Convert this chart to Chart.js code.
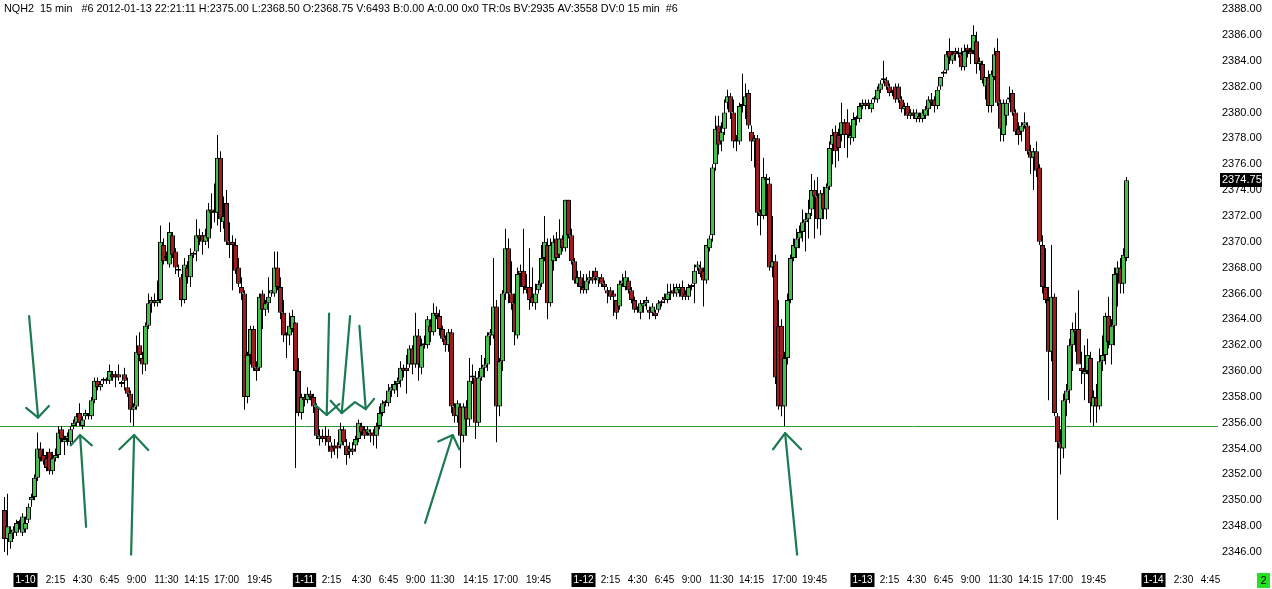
<!DOCTYPE html>
<html>
<head>
<meta charset="utf-8">
<title>NQH2 15 min</title>
<script src="https://cdn.jsdelivr.net/npm/chart.js@4/dist/chart.umd.min.js"></script>
<style>
  html, body { margin: 0; padding: 0; background: #fff; overflow: hidden; }
</style>
</head>
<body>
<canvas id="chart" width="1272" height="589"></canvas>
<script>
// NQH2 15 min bars, 2012-01-10 .. 2012-01-13
const headerText = 'NQH2  15 min   #6 2012-01-13 22:21:11 H:2375.00 L:2368.50 O:2368.75 V:6493 B:0.00 A:0.00 0x0 TR:0s BV:2935 AV:3558 DV:0 15 min  #6';

const opens = [
  2349.25,2347,2346.75,2347.5,2347.5,2348.25,2347.5,2347.75,2348.5,2350,
  2350.25,2351.75,2354,2353.5,2353.25,2353.75,2352.25,2353.25,2353.5,2355.5,
  2354.5,2354.75,2354.5,2355.75,2356,2356.75,2355.75,2356.5,2356.5,2356.5,
  2357.75,2359.25,2358.75,2359.25,2359.25,2359.25,2359.75,2359.75,2359.75,2359,
  2359.75,2358.75,2358.25,2357,2357.25,2362,2361,2360.5,2363.5,2365.25,
  2365.5,2365.25,2365.5,2369.75,2368.75,2368.25,2370.5,2369.25,2367.75,2367.25,
  2365.5,2368,2367.25,2369,2369.25,2370.5,2370.5,2370,2370.25,2372.5,
  2372.25,2372.25,2376.5,2371.5,2373,2370,2370,2369.75,2368,2366.5,
  2366,2358,2361.25,2363.25,2360.25,2360.25,2366,2364.75,2365.25,2366,
  2366,2368,2366.5,2364.5,2362.75,2362.75,2363.25,2363.75,2360,2356.75,
  2358,2357.75,2358.25,2358,2357.25,2354.75,2355,2355,2355,2354.25,
  2354.25,2354.25,2354.25,2355.5,2354.25,2353.75,2354,2354.25,2354.75,2355.75,
  2355.5,2355.25,2355.25,2355.25,2355,2355.75,2356.75,2357.5,2357.5,2358.5,
  2358.5,2359,2359.25,2360.25,2360.25,2360.5,2361.75,2360.5,2362.75,2360.25,
  2362,2362,2363.5,2363,2364.5,2364.25,2363.25,2362.5,2362,2363,
  2357.25,2356.5,2357.25,2355,2357.25,2356.25,2359.5,2359.5,2356,2359.5,
  2360.25,2360.5,2362.75,2362.75,2365,2357.25,2360.75,2366,2369.5,2366,
  2365.25,2362.75,2367.5,2367.75,2366.5,2366.5,2365.75,2365.25,2366.25,2366.75,
  2368.75,2369.75,2365.25,2368.5,2370.25,2369,2370.25,2369.5,2373.25,2370.5,
  2368.5,2366.75,2367.25,2366.5,2366.25,2367,2367.25,2367.75,2367,2367.25,
  2366.75,2366.25,2366.25,2366,2365.5,2365,2366.75,2366.5,2367,2366.25,
  2365.5,2364.75,2364.5,2365,2365.25,2364.75,2364.5,2364.5,2364.75,2365.25,
  2365.75,2365.5,2366,2366.25,2366,2366.25,2366.5,2366,2365.75,2366.5,
  2366.75,2368,2368,2367.75,2367,2369.5,2370.5,2376,2379,2377.75,
  2378.75,2380.75,2381.25,2380,2377.75,2377.75,2380.5,2380.5,2381.5,2378.5,
  2377.75,2378,2372.25,2372,2374.75,2374.5,2368,2368.5,2363.5,2363.5,
  2357.25,2361,2365.5,2368.75,2369.5,2370.25,2370.75,2371.5,2371.75,2372.5,
  2374,2373.5,2371.75,2373.75,2372.5,2374.25,2377.5,2378.5,2378.25,2378.25,
  2379.25,2379.25,2378,2378,2379.5,2379.5,2380.5,2380.75,2380.75,2380.25,
  2381,2381,2381.75,2382.5,2382.5,2382,2381.5,2382,2382,2381,
  2380.25,2380.5,2379.75,2380,2379.5,2379.75,2379.5,2379.75,2380.25,2381,
  2381,2380.5,2382,2383,2383.25,2384.75,2384,2384.75,2384.5,2384.5,
  2383.5,2385,2384.75,2384.75,2385.5,2383.75,2383.75,2382,2382.75,2380.5,
  2382.75,2384.75,2380.75,2378.25,2379.75,2381,2381.5,2380,2378.75,2378.5,
  2379,2379,2377,2376.5,2377,2375.75,2369.75,2366.5,2365.5,2361.5,
  2365.75,2356.5,2354.5,2354,2357.75,2358.5,2362,2363.25,2363.25,2360.25,
  2359.75,2360,2361,2357.25,2358,2357.25,2360.75,2361.25,2364.25,2362,
  2363.5,2367.5,2368,2366.75,2368.75
];

const highs = [
  2350.25,2350.5,2348,2348,2348.5,2348.5,2349,2348.75,2349.75,2350.5,
  2352,2355.25,2354.5,2354,2353.75,2354,2353.75,2354,2355.75,2355.75,
  2355,2355.25,2355.75,2356.25,2356.75,2357.5,2356.5,2357,2356.75,2358,
  2359.5,2359.5,2359.25,2359.5,2359.5,2360.5,2360,2360,2360.5,2359.25,
  2360.25,2359.5,2358.5,2357.5,2362.75,2363,2361.5,2363.75,2366,2365.75,
  2366,2367,2371.25,2370.25,2369.25,2371.5,2370.75,2369.5,2368.25,2367.5,
  2368.75,2368.5,2369.5,2369.25,2371.75,2371,2370.75,2371,2373,2373.75,
  2374.5,2378.25,2377,2373.5,2374,2371.5,2370.5,2370.25,2368.75,2367.25,
  2366.25,2361.5,2363.5,2363.5,2360.75,2366,2366.25,2365.5,2367.25,2366.25,
  2369.25,2369.25,2367.25,2365.5,2363,2364.5,2364.75,2363.75,2361,2358.25,
  2358.25,2358.75,2358.5,2358.25,2357.5,2355.5,2355.5,2355.75,2355.5,2354.5,
  2354.75,2354.5,2356,2355.75,2354.75,2354.5,2354.5,2355,2356.25,2356,
  2355.75,2355.75,2355.5,2355.5,2356,2357.25,2357.75,2357.75,2359,2359,
  2359.25,2359.5,2360.75,2360.5,2361.25,2362,2362,2364.5,2363.25,2362.5,
  2362.75,2364.25,2364,2365.25,2365,2364.75,2363.5,2362.75,2363.25,2363.25,
  2357.5,2357.75,2357.5,2357.5,2357.75,2361,2360.5,2360,2360,2361.25,
  2361,2363,2363.25,2368.75,2365.5,2361,2366.25,2371,2370.25,2368.5,
  2366,2368,2368.25,2371,2367.5,2369.5,2368,2366.75,2367,2369.75,
  2372,2370.25,2370.25,2370.5,2370.75,2371.75,2370.5,2373.25,2373.25,2371,
  2368.75,2367.75,2367.75,2367.5,2367.5,2367.75,2367.75,2368,2367.25,2367.5,
  2367,2366.5,2366.5,2366.25,2365.5,2367,2367.5,2367.75,2367.25,2366.5,
  2365.75,2365,2365.5,2365.5,2365.75,2365,2365.25,2364.75,2365.5,2365.5,
  2366,2366.75,2366.75,2366.75,2366.75,2366.75,2367,2366.25,2366.75,2366.75,
  2368.25,2368.5,2368.5,2368,2369.75,2370.5,2376,2379.75,2379.75,2379.25,
  2381,2381.75,2381.5,2381,2378.25,2380.75,2383,2382.25,2381.75,2379,
  2378.25,2378.25,2372.5,2376.5,2375.25,2375,2372,2369,2365.5,2364,
  2361.5,2366,2369,2370.25,2371,2371.25,2372.5,2372.25,2373.25,2375.25,
  2374.75,2375,2374,2374.25,2374.5,2377.75,2378.75,2379,2378.75,2380.75,
  2379.5,2380.25,2379,2380,2379.75,2380.75,2381,2381,2381,2381,
  2381.25,2382,2382.5,2384,2382.75,2382.25,2381.75,2382.25,2382.25,2381.25,
  2380.75,2380.75,2380.25,2380.25,2380.25,2380,2380.25,2380.5,2381.25,2381.5,
  2381.25,2382,2382.75,2383.25,2384.75,2385.75,2384.75,2385,2385,2385,
  2385.25,2385.25,2385,2386.75,2386.25,2384.25,2384,2382.75,2383.25,2383.25,
  2385,2385.75,2381,2381,2381,2382,2381.75,2380.25,2379.25,2379.25,
  2380,2379.25,2377.5,2377.25,2377.75,2376,2370.5,2369.5,2366.5,2369.75,
  2366,2356.75,2355.5,2358.25,2359,2362.5,2363.75,2364.5,2366.25,2361.5,
  2362,2362.5,2361.5,2358.5,2359,2361.75,2362.75,2364.5,2365.75,2364,
  2368,2368.5,2368.75,2369.5,2375
];

const lows = [
  2346,2345.75,2346.25,2347,2347.25,2347.75,2347.25,2347.5,2348.25,2349.5,
  2350,2351.5,2353,2352.75,2352.25,2352,2352,2353,2353.25,2354.5,
  2353.5,2354.25,2354.25,2355.5,2355.75,2355.75,2355.5,2356.25,2356.25,2356.25,
  2357.5,2358.5,2358.5,2359,2359,2359,2359.25,2358.75,2359.25,2358.75,
  2358.5,2358,2356,2355.75,2357,2360.75,2359.75,2360,2363.25,2364.5,
  2365,2365,2365.25,2368.25,2368.5,2368,2368.75,2367.5,2367.25,2365,
  2365.25,2366.75,2366.5,2368.75,2368.5,2369.75,2369,2369.75,2369.5,2371,
  2371.5,2371.25,2370.75,2371,2369.75,2368.75,2366.25,2367.5,2366.5,2365.5,
  2357,2357.5,2360.5,2360,2359.25,2360,2363.25,2364.25,2364.5,2365.75,
  2365.75,2366.25,2364,2362.25,2361,2362,2363,2352.5,2356.5,2356.25,
  2357.25,2357.5,2357.75,2356.75,2354.75,2354.25,2354.5,2354.25,2353.75,2353.25,
  2353.5,2353.25,2354,2354.25,2352.75,2353.25,2353.5,2353.75,2354.5,2355,
  2354.75,2355,2354.5,2354.25,2354,2355.5,2356.5,2357.25,2357.25,2358,
  2358.25,2358,2358.75,2359.5,2358.25,2360.25,2359.75,2360.25,2359.25,2359.75,
  2361.75,2361.75,2362.25,2362.75,2364,2362.75,2362.25,2361.5,2361.5,2356.75,
  2356,2356,2352.5,2354.5,2355,2355.75,2359,2354.75,2355.75,2359.25,
  2359.5,2360,2362,2362.5,2354.5,2356.5,2360,2365.5,2365.25,2364.75,
  2362,2362.5,2366.5,2366,2366,2364.75,2365,2364.75,2366,2366.5,
  2368.5,2364,2365,2367.75,2368.5,2368.75,2369.25,2369.25,2370.25,2368.25,
  2366.75,2366.5,2366,2366,2366,2366.75,2366.75,2366.75,2366.5,2366.5,
  2366.25,2365.25,2365.5,2364.25,2364,2364.75,2366.5,2366.25,2366,2365.25,
  2364.5,2364.5,2364,2364.5,2364.75,2364,2364.25,2364,2364.5,2365,
  2365.25,2365.25,2365.5,2365.75,2365.75,2365.75,2365.5,2365.5,2365.5,2366.25,
  2365.25,2367.75,2367.25,2365,2366.75,2369.25,2370,2375.5,2376.75,2377,
  2378.25,2380.25,2379.5,2377.25,2377,2377.5,2380,2379.5,2378.75,2376.25,
  2375.75,2371.25,2370.5,2371.75,2372,2367.75,2367.25,2359,2357,2356.5,
  2355.75,2360.5,2365.25,2368.5,2368.75,2369.5,2370,2369.25,2370.25,2372,
  2370.25,2371,2370.5,2371.75,2371.75,2374,2376,2375.75,2376.25,2377.75,
  2377.25,2376.5,2377.5,2377.75,2379,2379.25,2380.25,2380.25,2380.25,2380,
  2380.75,2380.75,2381.5,2382.25,2381.75,2381.25,2381.25,2380.75,2380.75,2380,
  2379.75,2379.5,2379.5,2379.5,2379.25,2379.25,2379.25,2379.5,2379.75,2380.5,
  2380,2380.25,2381.75,2382.75,2383,2383.75,2383.75,2384,2384.25,2383.25,
  2383.25,2384.25,2383.75,2384.5,2383,2383.25,2382.25,2381,2380,2380,
  2382.5,2380.5,2377.75,2377.75,2379,2380.75,2379.75,2378.25,2377.5,2377.75,
  2378.75,2376.75,2375.25,2374,2375,2369.75,2366,2365.25,2357.75,2360.75,
  2356.5,2348.5,2352,2353.25,2356.5,2357.5,2360,2361.5,2361,2359,
  2357.75,2359.75,2356,2355.75,2356,2357,2360,2360.5,2361.75,2360.5,
  2362,2365,2366,2366,2368.5
];

const closes = [
  2347,2348,2347.5,2347.75,2348.25,2348.25,2348.75,2348.25,2349.5,2350.25,
  2351.75,2354,2353.25,2353,2352.5,2352.25,2353.25,2353.5,2355.25,2354.75,
  2354.75,2355,2355.5,2356,2356.5,2356,2356.25,2356.75,2356.5,2357.75,
  2359.25,2358.75,2359,2359.25,2359.25,2360,2359.5,2359.5,2359.5,2359,
  2359.25,2358.25,2357,2357.25,2361.5,2361.25,2360.5,2363.5,2365.25,2365.5,
  2365.25,2365.5,2370,2368.5,2368.75,2370.75,2369,2368,2367.75,2365.5,
  2368.25,2367.25,2369,2369,2370.5,2370.25,2370,2370.5,2372.5,2372.25,
  2372.25,2376.5,2371.75,2372,2370,2369.75,2369.75,2367.75,2366.75,2366,
  2358,2361.25,2363.25,2360.25,2360,2365.75,2364.75,2365.25,2365.75,2366.25,
  2368,2366.5,2364.5,2362.75,2362.75,2363.5,2364.25,2360,2356.75,2358,
  2357.75,2358.25,2358,2357.25,2355,2355,2354.75,2354.75,2354.5,2353.75,
  2354,2354,2355.5,2354.5,2353.5,2354,2353.75,2354.75,2356,2355.25,
  2355,2355.5,2355,2355,2355.75,2356.75,2357.5,2357.5,2358.5,2358.75,
  2359,2359.25,2360.25,2360,2360,2361.75,2360.5,2362.75,2360.5,2362,
  2362,2364,2363,2364.5,2364.25,2363.25,2362.5,2362,2363,2357.25,
  2356.5,2357.5,2355,2357.25,2356.25,2359.25,2359.5,2356,2359.5,2360.25,
  2360.5,2362.75,2363,2365,2357.25,2360.75,2366,2369.5,2366,2365.25,
  2363,2367.5,2367.75,2366.5,2366.25,2365.5,2365.25,2366,2366.75,2368.75,
  2370,2365.25,2369.75,2370,2368.75,2370.25,2369.5,2373.25,2370.5,2368.5,
  2367,2367.25,2366.5,2366.25,2367,2367.25,2367,2367.25,2367.25,2366.75,
  2366.5,2366,2365.75,2365.75,2364.5,2366.75,2367,2367.25,2366.25,2365.5,
  2364.75,2364.75,2365.25,2365.25,2365.5,2364.5,2365,2364.25,2365.25,2365.25,
  2365.5,2366,2366,2366,2366.5,2366.5,2365.75,2365.75,2366.5,2366.5,
  2367.75,2368.25,2367.5,2367,2369.75,2370.25,2375.75,2378.75,2377.5,2378.5,
  2380,2381.25,2380,2377.75,2377.75,2380.5,2380.5,2381.25,2379,2377.75,
  2378,2372.25,2372,2375,2374.75,2368,2368.5,2359.5,2357.25,2357.25,
  2361,2365.5,2368.75,2369.75,2370.25,2370.75,2371.5,2371.75,2372.25,2374,
  2373.5,2371.75,2373.75,2372.5,2374.25,2377.25,2378.25,2377,2377.25,2379.25,
  2378.25,2378.25,2378.25,2379.5,2379.5,2380.5,2380.75,2380.5,2380.5,2380.75,
  2381,2381.75,2382.25,2382.5,2382,2381.5,2381.5,2381,2381,2380.25,
  2380.5,2379.75,2380,2379.75,2380,2379.5,2380,2380.25,2381,2380.75,
  2380.5,2381.75,2382.75,2383,2384.5,2384.25,2384.5,2384.5,2384.5,2383.5,
  2384.75,2384.75,2384.5,2386,2383.75,2384,2382.5,2382.75,2380.5,2383,
  2384.5,2380.75,2378.75,2380.75,2380.75,2381,2380,2378.5,2378.25,2379,
  2379.25,2377,2376.5,2377,2375.5,2370,2366.5,2365.5,2361.5,2365.75,
  2356.75,2354.5,2354,2357.75,2358.5,2362,2363.25,2363,2360.5,2360,
  2360,2361.25,2357.5,2358,2357.25,2360.75,2361.25,2364.25,2362.25,2363.5,
  2367.5,2368,2366.75,2369,2374.75
];

// x axis: one category per 15-min slot, labels only on some slots
const slotCount = 406;
const firstBarSlot = 1;
const tickSlots = [8, 18, 27, 36, 45, 55, 65, 75, 86,
                   101, 110, 120, 129, 138, 147, 158, 168, 179,
                   194, 203, 212, 221, 230, 240, 250, 261, 271,
                   287, 296, 305, 314, 323, 333, 343, 353, 364,
                   384, 394, 403];
const tickLabels = ['1-10', '2:15', '4:30', '6:45', '9:00', '11:30', '14:15', '17:00', '19:45',
                    '1-11', '2:15', '4:30', '6:45', '9:00', '11:30', '14:15', '17:00', '19:45',
                    '1-12', '2:15', '4:30', '6:45', '9:00', '11:30', '14:15', '17:00', '19:45',
                    '1-13', '2:15', '4:30', '6:45', '9:00', '11:30', '14:15', '17:00', '19:45',
                    '1-14', '2:30', '4:45'];
const dayLabels = ['1-10', '1-11', '1-12', '1-13', '1-14'];

// y axis
const priceTicks = [2346, 2348, 2350, 2352, 2354, 2356, 2358, 2360, 2362, 2364, 2366,
                    2368, 2370, 2372, 2374, 2376, 2378, 2380, 2382, 2384, 2386, 2388];
const priceMin = 2344.92;
const priceMax = 2388.7;

// support line and hand drawn arrows, as [slot, price] points
const supportLevel = 2355.75;
const arrowStrokes = [
  [[9.2, 2364.25], [12.2, 2356.4]],
  [[8.2, 2357.15], [12.2, 2356.4], [15.8, 2357.3]],
  [[28.2, 2347.95], [26.2, 2355.05]],
  [[23.1, 2354.25], [26.2, 2355.05], [30.1, 2354.25]],
  [[43.2, 2345.8], [44.2, 2355.05]],
  [[39.3, 2353.95], [44.2, 2355.05], [48.9, 2353.9]],
  [[109.2, 2364.45], [108.4, 2356.6]],
  [[116.2, 2364.25], [113.4, 2356.75]],
  [[119.3, 2363.5], [121.4, 2357.05]],
  [[104.2, 2357.45], [108.4, 2356.6], [112.6, 2357.45]],
  [[109.7, 2357.7], [113.4, 2356.75], [117.8, 2357.6], [121.4, 2357.05], [124.2, 2357.85]],
  [[141.2, 2348.25], [150.4, 2355.05]],
  [[145.6, 2354.55], [150.4, 2355.05], [152.6, 2353.95]],
  [[265.2, 2345.8], [261.2, 2355.2]],
  [[257.2, 2353.95], [261.2, 2355.2], [266.5, 2353.95]]
];

const FONT = "'Liberation Sans', Arial, sans-serif";
const UP = '#43c04d';
const DOWN = '#9c1c1f';

Chart.defaults.font.family = FONT;

const categories = Array.from({ length: slotCount }, () => '');
tickSlots.forEach((s, k) => { categories[s] = tickLabels[k]; });

const wickData = Array(slotCount).fill(null);
const bodyData = Array(slotCount).fill(null);
closes.forEach((c, k) => {
  wickData[firstBarSlot + k] = [lows[k], highs[k]];
  bodyData[firstBarSlot + k] = [opens[k], c];
});

function isUp(i) {
  const k = i - firstBarSlot;
  return closes[k] >= opens[k];
}

function isDay(c) {
  return !!(c.tick && dayLabels.includes(c.tick.label));
}

// extra drawing: support line, arrows, header, price marker
const overlay = {
  id: 'overlay',
  beforeDatasetsDraw(chart) {
    const { ctx, chartArea, scales } = chart;
    const y = Math.round(scales.y.getPixelForValue(supportLevel)) + 0.5;
    ctx.save();
    ctx.strokeStyle = '#2e9a36';
    ctx.lineWidth = 1;
    ctx.beginPath();
    ctx.moveTo(chartArea.left, y);
    ctx.lineTo(chartArea.right, y);
    ctx.stroke();
    ctx.restore();
  },
  afterDatasetsDraw(chart) {
    const { ctx, scales } = chart;
    const slotW = scales.x.getPixelForValue(1) - scales.x.getPixelForValue(0);
    const px = s => scales.x.getPixelForValue(0) + s * slotW;
    ctx.save();
    ctx.strokeStyle = '#1c7a50';
    ctx.lineWidth = 2.2;
    ctx.lineCap = 'round';
    ctx.lineJoin = 'round';
    arrowStrokes.forEach(pts => {
      ctx.beginPath();
      pts.forEach(([s, p], j) => {
        const x = px(s), y = scales.y.getPixelForValue(p);
        if (j === 0) ctx.moveTo(x, y); else ctx.lineTo(x, y);
      });
      ctx.stroke();
    });
    ctx.restore();
  },
  afterDraw(chart) {
    const { ctx, chartArea, scales, width, height } = chart;
    ctx.save();
    ctx.font = '10.8px ' + FONT;
    ctx.textBaseline = 'middle';
    ctx.fillStyle = '#000';
    ctx.textAlign = 'left';
    ctx.fillText(headerText, 4, 9);

    // last price marker on the price axis
    ctx.font = '11px ' + FONT;
    const last = closes[closes.length - 1];
    const y = Math.round(scales.y.getPixelForValue(last));
    ctx.fillStyle = '#000';
    ctx.fillRect(chartArea.right + 2, y - 7, 42, 14);
    ctx.fillStyle = '#fff';
    ctx.fillText(last.toFixed(2), chartArea.right + 4, y);

    // bar counter in the corner
    ctx.fillStyle = '#22e022';
    ctx.fillRect(width - 15, height - 16, 13, 15);
    ctx.fillStyle = '#000';
    ctx.textAlign = 'center';
    ctx.fillText('2', width - 8.5, height - 8);
    ctx.restore();
  }
};

new Chart(document.getElementById('chart'), {
  type: 'bar',
  data: {
    labels: categories,
    datasets: [
      {
        label: 'body',
        data: bodyData,
        order: 0,
        grouped: false,
        barThickness: 5,
        minBarLength: 2,
        borderWidth: 1,
        borderColor: '#000',
        borderSkipped: false,
        inflateAmount: 0,
        backgroundColor: c => (isUp(c.dataIndex) ? UP : DOWN)
      },
      {
        label: 'wick',
        data: wickData,
        order: 1,
        grouped: false,
        barThickness: 1,
        borderWidth: 0,
        inflateAmount: 0,
        backgroundColor: '#000'
      }
    ]
  },
  options: {
    responsive: false,
    animation: false,
    events: [],
    layout: { padding: 0 },
    plugins: {
      legend: { display: false },
      tooltip: { enabled: false }
    },
    scales: {
      x: {
        type: 'category',
        offset: true,
        grid: { display: false, drawTicks: false },
        border: { display: false },
        afterBuildTicks: s => { s.ticks = tickSlots.map(v => ({ value: v })); },
        afterFit: s => { s.height = 23; s.paddingLeft = 0; s.paddingRight = 0; },
        ticks: {
          autoSkip: false,
          maxRotation: 0,
          padding: 8,
          font: { size: 10 },
          color: c => (isDay(c) ? '#fff' : '#000'),
          showLabelBackdrop: c => isDay(c),
          backdropColor: '#000',
          backdropPadding: { left: 2, right: 2, top: 1, bottom: 1 }
        }
      },
      y: {
        position: 'right',
        min: priceMin,
        max: priceMax,
        grid: { display: false, drawTicks: false },
        border: { display: false },
        afterBuildTicks: s => { s.ticks = priceTicks.map(v => ({ value: v })); },
        afterFit: s => { s.width = 54; s.paddingTop = 0; s.paddingBottom = 0; },
        ticks: {
          padding: 4,
          font: { size: 11 },
          color: '#000',
          callback: v => Number(v).toFixed(2)
        }
      }
    }
  },
  plugins: [overlay]
});
</script>
</body>
</html>
